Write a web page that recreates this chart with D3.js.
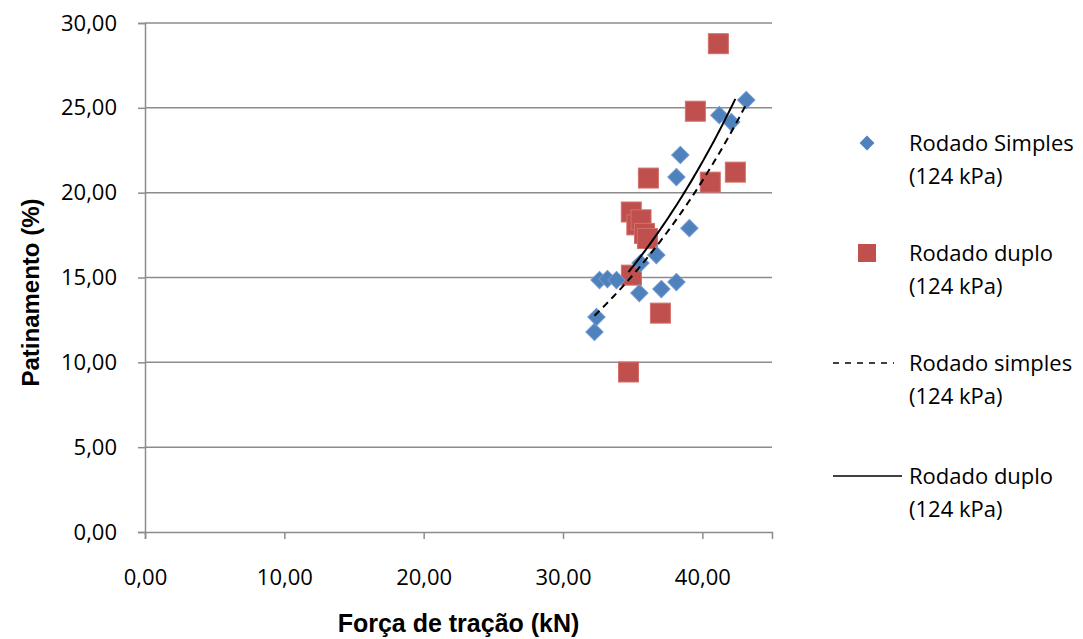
<!DOCTYPE html>
<html>
<head>
<meta charset="utf-8">
<script src="https://cdn.jsdelivr.net/npm/d3@7"></script>
<style>
  body { margin: 0; background: #fff; }
  text { font-family: "Open Sans", sans-serif; fill: #000; }
</style>
</head>
<body>
<svg width="1083" height="639"></svg>
<script>
// Rodado simples (124 kPa) - blue diamonds
const simplesX = [32.26, 32.40, 32.62, 33.19, 33.84, 35.48, 37.06, 38.14, 36.70, 35.56, 39.07, 38.42, 38.14, 41.22, 42.08, 43.15];
const simplesY = [11.79, 12.67, 14.85, 14.91, 14.85, 14.08, 14.32, 14.73, 16.32, 15.85, 17.91, 22.22, 20.92, 24.57, 24.16, 25.46];

// Rodado duplo (124 kPa) - red squares
const duploX = [34.70, 34.91, 36.99, 34.90, 35.30, 35.60, 35.85, 36.06, 36.13, 40.57, 42.37, 39.50, 41.15];
const duploY = [9.43, 15.14, 12.90, 18.86, 18.10, 18.40, 17.60, 17.30, 20.86, 20.62, 21.21, 24.80, 28.78];

const xTicks = [0, 10, 20, 30, 40];
const yTicks = [0, 5, 10, 15, 20, 25, 30];
const legendLabels = ["Rodado Simples", "Rodado duplo", "Rodado simples", "Rodado duplo"];

const svg = d3.select("svg");
const margin = {left: 145, right: 311, top: 23, bottom: 107};
const W = 1083, H = 639;

const x = d3.scaleLinear().domain([0, 45]).range([margin.left, W - margin.right]);
const y = d3.scaleLinear().domain([0, 30]).range([H - margin.bottom, margin.top]);

const fmt = v => d3.format(".2f")(v).replace(".", ",");
const gray = "#8c8c8c";

// gridlines
svg.append("g")
  .selectAll("line")
  .data(yTicks.filter(d => d > 0))
  .join("line")
  .attr("x1", x(0)).attr("x2", x(45))
  .attr("y1", d => y(d)).attr("y2", d => y(d))
  .attr("stroke", gray).attr("stroke-width", 1.5);

// y axis
const yAxis = svg.append("g")
  .attr("transform", `translate(${x(0)},0)`)
  .call(d3.axisLeft(y).tickValues(yTicks).tickFormat(fmt).tickSize(7).tickPadding(21));
yAxis.select(".domain").attr("stroke", gray).attr("stroke-width", 1.5);
yAxis.selectAll(".tick line").attr("stroke", gray).attr("stroke-width", 1.5);
yAxis.selectAll("text").style("font-size", "22px").attr("fill", "#000");

// x axis
const xAxis = svg.append("g")
  .attr("transform", `translate(0,${y(0)})`)
  .call(d3.axisBottom(x).tickValues(xTicks).tickFormat(fmt).tickSize(7).tickPadding(30));
xAxis.select(".domain").attr("stroke", gray).attr("stroke-width", 1.5);
xAxis.selectAll(".tick line").attr("stroke", gray).attr("stroke-width", 1.5);
xAxis.selectAll("text").style("font-size", "22px").attr("fill", "#000");

// axis titles
svg.append("text")
  .attr("x", (x(0) + x(45)) / 2).attr("y", 632)
  .attr("text-anchor", "middle")
  .style("font-family", "'Liberation Sans', Arial, sans-serif")
  .style("font-weight", "bold").style("font-size", "25px")
  .text("Força de tração (kN)");

svg.append("text")
  .attr("transform", `translate(39,${(y(0) + y(30)) / 2 + 15}) rotate(-90)`)
  .attr("text-anchor", "middle")
  .style("font-family", "'Liberation Sans', Arial, sans-serif")
  .style("font-weight", "bold").style("font-size", "24px")
  .text("Patinamento (%)");

// exponential trendline (least squares on ln y), like the spreadsheet trendline
function expFit(xs, ys) {
  const ly = ys.map(Math.log);
  const mx = d3.mean(xs), my = d3.mean(ly);
  const b = d3.sum(xs, (v, i) => (v - mx) * (ly[i] - my)) / d3.sum(xs, v => (v - mx) * (v - mx));
  const a = Math.exp(my - b * mx);
  const [x0, x1] = d3.extent(xs);
  return d3.range(0, 41).map(i => {
    const xv = x0 + (x1 - x0) * i / 40;
    return [xv, a * Math.exp(b * xv)];
  });
}

const line = d3.line().x(d => x(d[0])).y(d => y(d[1]));

const blue = "#4f81bd", red = "#c0504d";
const diamond = d3.symbol().type(d3.symbolSquare).size(150);

// red squares
svg.append("g")
  .selectAll("rect")
  .data(duploX.map((v, i) => [v, duploY[i]]))
  .join("rect")
  .attr("x", d => x(d[0]) - 10).attr("y", d => y(d[1]) - 10)
  .attr("width", 20).attr("height", 20)
  .attr("fill", red).attr("stroke", "#d46f6c").attr("stroke-width", 1);

// blue diamonds
svg.append("g")
  .selectAll("path")
  .data(simplesX.map((v, i) => [v, simplesY[i]]))
  .join("path")
  .attr("d", diamond)
  .attr("transform", d => `translate(${x(d[0])},${y(d[1])}) rotate(45)`)
  .attr("fill", blue).attr("stroke", "#6f98cc").attr("stroke-width", 1);

// trendlines
svg.append("path")
  .datum(expFit(simplesX, simplesY))
  .attr("d", line).attr("fill", "none")
  .attr("stroke", "#000").attr("stroke-width", 2).attr("stroke-dasharray", "7,5");

svg.append("path")
  .datum(expFit(duploX, duploY))
  .attr("d", line).attr("fill", "none")
  .attr("stroke", "#000").attr("stroke-width", 2);

// legend
const lg = svg.append("g");
const rowY = [143, 253, 363, 476];
lg.append("path").attr("d", d3.symbol().type(d3.symbolSquare).size(110))
  .attr("transform", `translate(867,${rowY[0]}) rotate(45)`).attr("fill", blue);
lg.append("rect").attr("x", 858).attr("y", rowY[1] - 9).attr("width", 18).attr("height", 18).attr("fill", red);
lg.append("line").attr("x1", 833).attr("x2", 894).attr("y1", rowY[2]).attr("y2", rowY[2])
  .attr("stroke", "#000").attr("stroke-width", 1.5).attr("stroke-dasharray", "6,6");
lg.append("line").attr("x1", 833).attr("x2", 902).attr("y1", rowY[3]).attr("y2", rowY[3])
  .attr("stroke", "#000").attr("stroke-width", 1.5);

legendLabels.forEach((t, i) => {
  const tx = lg.append("text").attr("x", 909).attr("y", rowY[i] + 8).style("font-size", "22px");
  tx.append("tspan").attr("x", 909).text(t);
  tx.append("tspan").attr("x", 909).attr("dy", 33).text("(124 kPa)");
});
</script>
</body>
</html>
